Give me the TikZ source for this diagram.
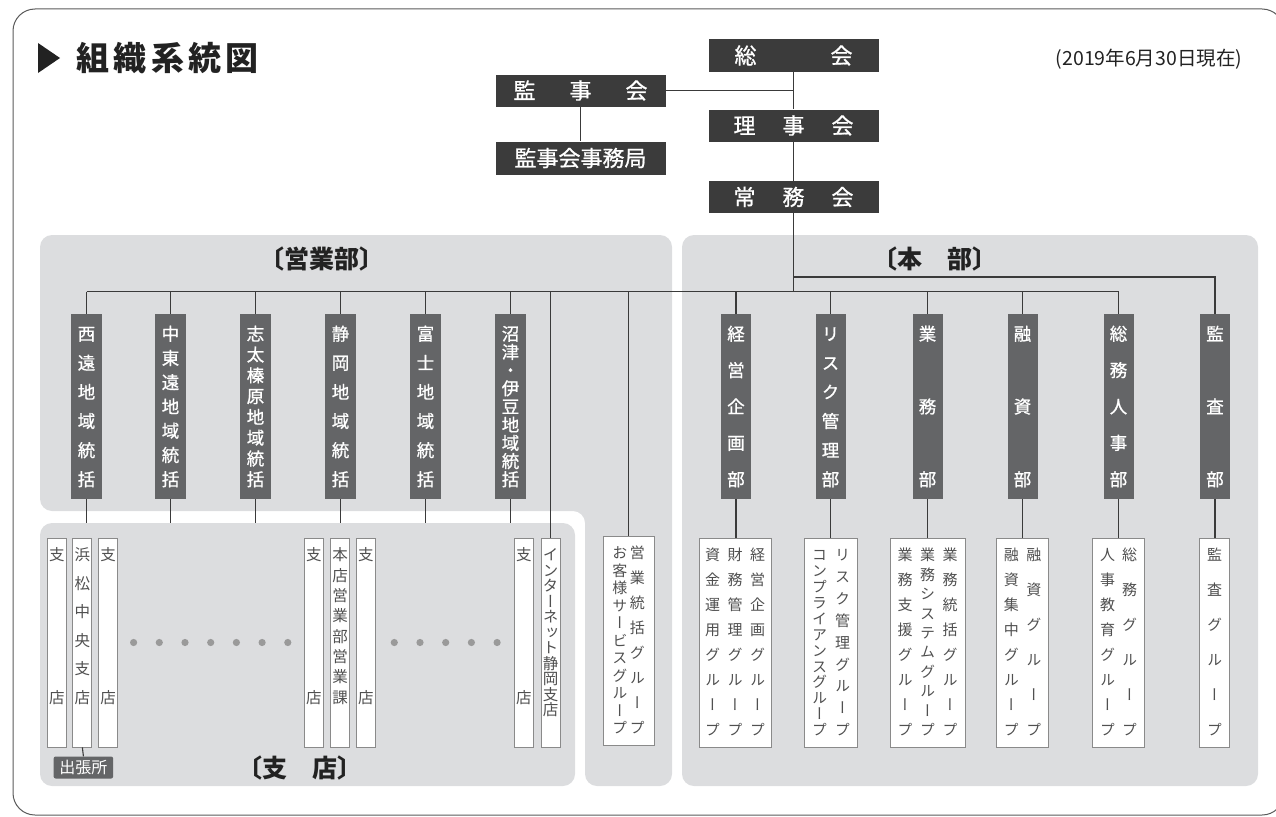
\documentclass[tikz,border=0pt]{standalone}
\usepackage{fontspec}
\setmainfont{Noto Sans CJK JP}
\newfontfamily\jpv[RawFeature=+vert]{Noto Sans CJK JP}
\newfontfamily\jpvm[RawFeature=+vert, FakeBold=0.9]{Noto Sans CJK JP}
\newfontfamily\jpm[FakeBold=0.9]{Noto Sans CJK JP}
\definecolor{topc}{HTML}{3B3B3B}
\definecolor{regc}{HTML}{646567}
\definecolor{panelc}{HTML}{DCDDDF}
\definecolor{linec}{HTML}{3A3A3A}
\definecolor{brd}{HTML}{8A8A8A}
\definecolor{txtc}{HTML}{505050}
\definecolor{dotc}{HTML}{9A9A9A}
\definecolor{titc}{HTML}{222222}
\definecolor{framec}{HTML}{5A5A5A}
\ExplSyntaxOn
\NewDocumentCommand\vj{mm}{
  \vbox~to~#1{
    \offinterlineskip
    \bool_set_true:N \l_tmpa_bool
    \tl_map_inline:nn {#2}{
      \bool_if:NF \l_tmpa_bool {\vfill}
      \bool_set_false:N \l_tmpa_bool
      \hbox~to~1em{\hss\vrule~height~.88em~depth~.12em~width~0pt\relax ##1\hss}
    }
    \kern0pt
  }
}
\ExplSyntaxOff
\tikzset{
  line/.style={draw=linec, line width=1.1pt},
  topbox/.style={fill=topc, text=white, inner sep=0pt, minimum width=170pt, minimum height=32pt, font=\jpm\fontsize{22}{22}\selectfont},
  regbox/.style={fill=regc, text=white, inner sep=0pt, minimum width=31pt, minimum height=185pt, font=\jpvm\fontsize{17.5}{17.5}\selectfont},
  depbox/.style={fill=regc, text=white, inner sep=0pt, minimum width=30pt, minimum height=185pt, font=\jpvm\fontsize{17.5}{17.5}\selectfont},
  brbox/.style={fill=white, draw=brd, line width=0.9pt, inner sep=0pt, minimum width=19pt, minimum height=209pt, text=txtc, font=\jpv\fontsize{15.5}{15.5}\selectfont},
  grbox/.style={fill=white, draw=brd, line width=0.9pt, inner sep=0pt, minimum height=209pt, text=txtc, font=\jpv\fontsize{15}{15}\selectfont},
  panel/.style={fill=panelc, rounded corners=12pt},
  plabel/.style={inner sep=0pt, text=titc, font=\bfseries\fontsize{25}{25}\selectfont},
}
\newcommand\brtext[1]{\vbox{\vskip9pt\vj{158pt}{#1}\vskip42pt}}
\newcommand\rgtext[1]{\vj{163pt}{#1}}
\newcommand\grtext[1]{\vj{190pt}{#1}}
\begin{document}
\begin{tikzpicture}[x=1pt,y=-1pt]
\useasboundingbox (0,0) rectangle (1276,816);
% outer frame
\draw[framec, line width=1pt, rounded corners=22pt] (13,9) rectangle (1284,815);
% title
\fill[titc] (38,43) -- (60,58) -- (38,73) -- cycle;
\node[inner sep=0pt, anchor=west, text=titc, font=\bfseries\fontsize{33}{33}\selectfont] (title) at (76.5,58) {\hbox to 182pt{組\hfil 織\hfil 系\hfil 統\hfil 図}};
\node[inner sep=0pt, text=titc, font=\fontsize{19.5}{19.5}\selectfont] (date) at (1149,59) {(2019年6月30日現在)};
% panels
\fill[panel] (300,235) -- (672,235) -- (672,786) -- (585,786) -- (585,511) -- (40,511) -- (40,235) -- cycle;
\fill[panel] (40,523) rectangle (575,786);
\fill[panel] (682,235) rectangle (1258,786);
\node[plabel] (lblE) at (322,259) {〔営業部〕};
\node[plabel] (lblH) at (934.5,259) {〔本　部〕};
\node[plabel] (lblS) at (299.5,768) {〔支　店〕};
% top boxes
\node[topbox] (soukai) at (793.5,55.5) {\hbox to 118pt{総\hfil 会}};
\node[topbox] (kanjikai) at (580.5,90.5) {\hbox to 134pt{監\hfil 事\hfil 会}};
\node[topbox] (riji) at (793.5,125.5) {\hbox to 120pt{理\hfil 事\hfil 会}};
\node[topbox, minimum height=33pt] (jimu) at (580.5,158) {監事会事務局};
\node[topbox] (joumu) at (793.5,197) {\hbox to 120pt{常\hfil 務\hfil 会}};
% regions
\node[regbox] (r1) at (86.5,406.5) {\rgtext{西遠地域統括}};
\node[regbox] (r2) at (170.5,406.5) {\rgtext{中東遠地域統括}};
\node[regbox] (r3) at (255.5,406.5) {\rgtext{志太榛原地域統括}};
\node[regbox] (r4) at (340.5,406.5) {\rgtext{静岡地域統括}};
\node[regbox] (r5) at (425.5,406.5) {\rgtext{富士地域統括}};
\node[regbox] (r6) at (510.5,406.5) {\rgtext{沼津・伊豆地域統括}};
% departments
\node[depbox] (d1) at (736,406.5) {\rgtext{経営企画部}};
\node[depbox] (d2) at (830.5,406.5) {\rgtext{リスク管理部}};
\node[depbox] (d3) at (927.5,406.5) {\rgtext{業務部}};
\node[depbox] (d4) at (1022.5,406.5) {\rgtext{融資部}};
\node[depbox] (d5) at (1118.5,406.5) {\rgtext{総務人事部}};
\node[depbox] (d6) at (1215,406.5) {\rgtext{監査部}};
% branches
\node[brbox] (b1) at (56.8,642.5) {\brtext{支店}};
\node[brbox] (b2) at (82.4,642.5) {\brtext{浜松中央支店}};
\node[brbox] (b3) at (108,642.5) {\brtext{支店}};
\node[brbox] (b4) at (313.8,642.5) {\brtext{支店}};
\node[brbox] (b5) at (340.2,642.5) {\brtext{本店営業部営業課}};
\node[brbox] (b6) at (365.9,642.5) {\brtext{支店}};
\node[brbox] (b7) at (523.8,642.5) {\brtext{支店}};
\node[brbox] (b8) at (550.7,642.5) {\brtext{インターネット静岡支店}};
\node[fill=regc, rounded corners=2pt, text=white, inner sep=0pt, minimum width=59.5pt, minimum height=22pt, font=\fontsize{16}{16}\selectfont] (shutcho) at (83.4,767.5) {出張所};
\foreach \i in {0,...,6} \fill[dotc] ({133.6+25.7*\i},642.5) circle (3.6pt);
\foreach \i in {0,...,4} \fill[dotc] ({394.3+25.7*\i},642.5) circle (3.6pt);
% groups
\node[grbox, minimum width=51pt, minimum height=209pt] (g0) at (628.5,640.5) {\hbox{\grtext{お客様サービスグループ}\hskip2.5pt\grtext{営業統括グループ}}};
\node[grbox, minimum width=72.5pt] (g1) at (735.2,642.5) {\hbox{\grtext{資金運用グループ}\hskip7.5pt\grtext{財務管理グループ}\hskip7.5pt\grtext{経営企画グループ}}};
\node[grbox, minimum width=53pt] (g2) at (831,642.5) {\hbox{\grtext{コンプライアンスグループ}\hskip8pt\grtext{リスク管理グループ}}};
\node[grbox, minimum width=75.5pt] (g3) at (927.7,642.5) {\hbox{\grtext{業務支援グループ}\hskip7.5pt\grtext{業務システムグループ}\hskip7.5pt\grtext{業務統括グループ}}};
\node[grbox, minimum width=52pt] (g4) at (1022.7,642.5) {\hbox{\grtext{融資集中グループ}\hskip7.5pt\grtext{融資グループ}}};
\node[grbox, minimum width=52pt] (g5) at (1118.7,642.5) {\hbox{\grtext{人事教育グループ}\hskip7pt\grtext{総務グループ}}};
\node[grbox, minimum width=30pt] (g6) at (1214.6,642.5) {\grtext{監査グループ}};
% connectors
\coordinate (hub) at (793.5,291.5);
\coordinate (hub2) at (793.5,277);
\coordinate (stop) at (0,523);
\draw[line] (soukai.south) -- (riji.north);
\draw[line] (kanjikai.east) -- (kanjikai.east -| soukai.south);
\draw[line] (kanjikai.south) -- (jimu.north);
\draw[line] (riji.south) -- (joumu.north);
\draw[line] (joumu.south) -- (hub);
\draw[line] (r1.north |- hub) -- (d5.north |- hub);
\draw[line] (hub2) -- (hub2 -| d6.north) -- (d6.north);
\foreach \n in {r1,r2,r3,r4,r5,r6,d1,d2,d3,d4,d5} \draw[line] (\n.north |- hub) -- (\n.north);
\foreach \n in {r1,r2,r3,r4,r5,r6} \draw[line] (\n.south) -- (\n.south |- stop);
\draw[line] (g0.north |- hub) -- (g0.north);
\draw[line] (b8.north |- hub) -- (b8.north);
\draw[line] (b2.south) -- (shutcho.north);
\draw[line] (d1.south) -- (d1.south |- g1.north);
\draw[line] (d2.south) -- (d2.south |- g2.north);
\draw[line] (d3.south) -- (d3.south |- g3.north);
\draw[line] (d4.south) -- (d4.south |- g4.north);
\draw[line] (d5.south) -- (d5.south |- g5.north);
\draw[line] (d6.south) -- (d6.south |- g6.north);
\end{tikzpicture}
\end{document}
